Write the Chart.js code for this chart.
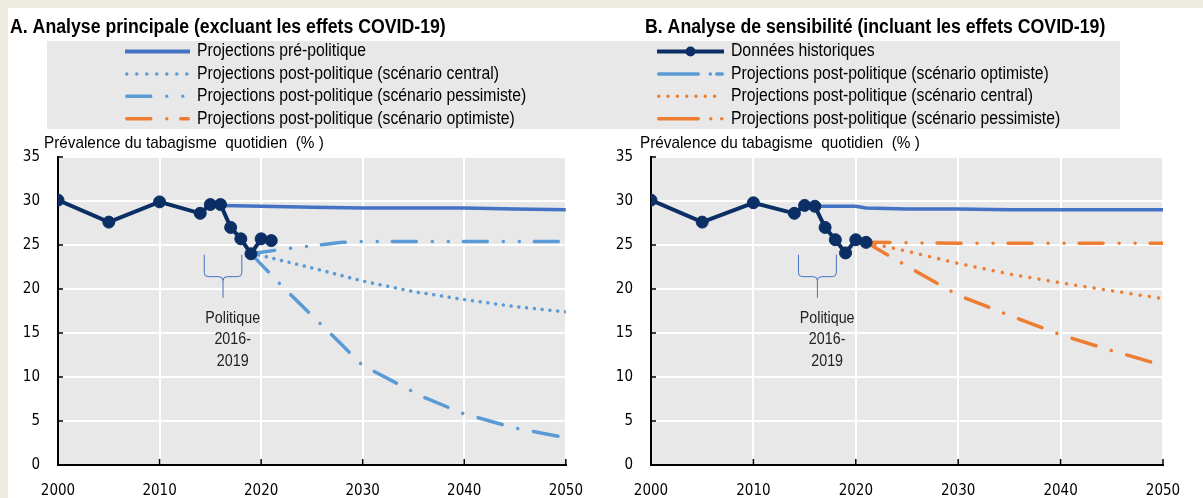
<!DOCTYPE html>
<html lang="fr">
<head>
<meta charset="utf-8">
<title>Prévalence du tabagisme quotidien</title>
<script src="https://cdn.jsdelivr.net/npm/chart.js@4.4.1/dist/chart.umd.min.js"></script>
<style>
  html, body { margin: 0; padding: 0; }
  body { width: 1203px; height: 498px; background: #eeece1; position: relative; overflow: hidden; }
  #sheet { position: absolute; left: 8px; top: 8px; width: 1195px; height: 490px; background: #fff; }
  canvas { position: absolute; top: 8px; }
  #chartA { left: 8px; }
  #chartB { left: 600px; }
</style>
</head>
<body>
<div id="sheet"></div>
<canvas id="chartA" width="592" height="490"></canvas>
<canvas id="chartB" width="603" height="490"></canvas>
<script>
// Données historiques (même série dans les deux panneaux)
const HIST_YEARS = [2000, 2005, 2010, 2014, 2015, 2016, 2017, 2018, 2019, 2020, 2021];
const HIST_A = [30.1, 27.6, 29.9, 28.6, 29.6, 29.6, 27.0, 25.7, 24.0, 25.7, 25.5];
const HIST_B = [30.1, 27.6, 29.8, 28.6, 29.5, 29.4, 27.0, 25.6, 24.1, 25.6, 25.3];

// Panneau A : projections
const PRE_A_YEARS = [2016, 2020, 2025, 2030, 2035, 2040, 2045, 2050];
const PRE_A = [29.5, 29.4, 29.3, 29.2, 29.2, 29.2, 29.1, 29.0];
const CENTRAL_A_YEARS = [2019, 2020, 2025, 2030, 2035, 2040, 2045, 2050];
const CENTRAL_A = [24.0, 23.8, 22.4, 20.9, 19.7, 18.8, 18.0, 17.4];
const UPPER_A_YEARS = [2019, 2022, 2025, 2028, 2030, 2040, 2050];
const UPPER_A = [24.0, 24.5, 24.9, 25.3, 25.4, 25.4, 25.4];
const LOWER_A_YEARS = [2019, 2020, 2022, 2025, 2028, 2030, 2033, 2036, 2040, 2045, 2050];
const LOWER_A = [24.0, 22.8, 20.4, 17.0, 13.6, 11.3, 9.5, 7.7, 5.8, 4.2, 3.1];

// Panneau B : projections
const PRE_B_YEARS = [2016, 2020, 2021, 2025, 2030, 2035, 2040, 2050];
const PRE_B = [29.4, 29.4, 29.2, 29.1, 29.1, 29.0, 29.0, 29.0];
const CENTRAL_B_YEARS = [2021, 2025, 2030, 2035, 2040, 2045, 2050];
const CENTRAL_B = [25.3, 24.3, 22.9, 21.7, 20.7, 19.8, 18.9];
const UPPER_B_YEARS = [2021, 2030, 2040, 2050];
const UPPER_B = [25.3, 25.2, 25.2, 25.2];
const LOWER_B_YEARS = [2021, 2025, 2028, 2030, 2035, 2040, 2045, 2050];
const LOWER_B = [25.3, 22.6, 20.6, 19.3, 17.0, 14.8, 13.0, 11.3];

const TITLE_A = 'A. Analyse principale (excluant les effets COVID-19)';
const TITLE_B = 'B. Analyse de sensibilité (incluant les effets COVID-19)';
const Y_TITLE = 'Prévalence du tabagisme  quotidien  (% )';
const LEGEND_A_LABELS = [
  'Projections pré-politique',
  'Projections post-politique (scénario central)',
  'Projections post-politique (scénario pessimiste)',
  'Projections post-politique (scénario optimiste)',
];
const LEGEND_B_LABELS = [
  'Données historiques',
  'Projections post-politique (scénario optimiste)',
  'Projections post-politique (scénario central)',
  'Projections post-politique (scénario pessimiste)',
];
const NOTE_LINES = ['Politique', '2016-', '2019'];
// accolade « Politique 2016-2019 » en unités des axes
const BRACE = { x1: 2014.4, x2: 2018.1, top: 23.9, bottom: 21.4, tip: 19.0, textX: 2017.2, textY: 16.7 };

const FONT = '"DejaVu Sans Condensed", "Liberation Sans Narrow", sans-serif';
const TEXT_FONT = '"Liberation Sans", Arial, sans-serif';
const NAVY = '#0b2e64';
const BLUE = '#4472c4';
const LIGHT = '#5b9bd5';
const ORANGE = '#ed7d31';
const DASH_DOT = [25, 16, 0.01, 16];
const DASH_DOT_DOT = [24, 16, 0.01, 16, 0.01, 15];

function toPoints(years, values) {
  return years.map((x, i) => ({ x, y: values[i] }));
}

function lineSet(label, years, values, color, dash) {
  return {
    label,
    data: toPoints(years, values),
    borderColor: color,
    backgroundColor: color,
    borderWidth: 3.5,
    borderDash: dash,
    borderCapStyle: dash.length ? 'round' : 'butt',
    pointRadius: 0,
    pointHoverRadius: 0,
    tension: 0,
    fill: false,
  };
}

function histSet(values) {
  return {
    label: 'Données historiques',
    data: toPoints(HIST_YEARS, values),
    borderColor: NAVY,
    backgroundColor: NAVY,
    borderWidth: 4,
    pointRadius: 6,
    pointBorderWidth: 1,
    pointHoverRadius: 6,
    tension: 0,
    fill: false,
  };
}

// texte étroit : police Arial-compatible compressée horizontalement
function narrowText(ctx, text, x, y, size, opts = {}) {
  const { weight = 'normal', align = 'left', squeeze = 0.885 } = opts;
  ctx.save();
  ctx.font = `${weight} ${size}px ${TEXT_FONT}`;
  ctx.textBaseline = 'middle';
  ctx.textAlign = align;
  ctx.translate(x, y);
  ctx.scale(squeeze, 1);
  ctx.fillText(text, 0, 0);
  ctx.restore();
}

function drawSample(ctx, item, x1, x2, y) {
  ctx.save();
  ctx.strokeStyle = item.color;
  ctx.lineWidth = item.width || 3.5;
  ctx.setLineDash(item.dash || []);
  ctx.lineCap = item.dash && item.dash.length ? 'round' : 'butt';
  const pad = ctx.lineCap === 'round' ? 1.75 : 0;
  ctx.beginPath();
  ctx.moveTo(x1 + pad, y);
  ctx.lineTo(x2 - pad, y);
  ctx.stroke();
  if (item.marker) {
    ctx.fillStyle = item.color;
    ctx.beginPath();
    ctx.arc((x1 + x2) / 2, y, 5, 0, Math.PI * 2);
    ctx.fill();
  }
  ctx.restore();
}

const decor = {
  id: 'decor',
  beforeDraw(chart, args, o) {
    const { ctx, chartArea: a } = chart;
    ctx.save();
    ctx.fillStyle = '#e8e8e8';
    ctx.fillRect(o.band[0], 33, o.band[1] - o.band[0], 88);
    ctx.fillRect(a.left, a.top, a.right - a.left, a.bottom - a.top);

    ctx.fillStyle = '#000';
    narrowText(ctx, o.title, o.titleX, 19, 20, { weight: 'bold' });
    o.legend.forEach((item, i) => {
      const y = 43.5 + i * 22.4;
      drawSample(ctx, item, o.sampleX, o.sampleX + o.sampleW, y);
      ctx.fillStyle = '#000';
      narrowText(ctx, item.label, o.sampleX + o.sampleW + 7, y, 17.5, { squeeze: 0.9 });
    });
    narrowText(ctx, Y_TITLE, o.yTitleX, 135, 17, { squeeze: 0.9 });
    ctx.restore();
  },
  beforeDatasetsDraw(chart) {
    const { ctx, chartArea: a, scales: { x, y } } = chart;
    ctx.save();
    // petites graduations intérieures
    ctx.strokeStyle = '#000';
    ctx.lineWidth = 1.5;
    ctx.beginPath();
    x.ticks.forEach((t) => {
      if (t.value === x.min) return;
      const px = x.getPixelForValue(t.value);
      ctx.moveTo(px, a.bottom);
      ctx.lineTo(px, a.bottom - 6);
    });
    y.ticks.forEach((t) => {
      if (t.value === y.min) return;
      const py = y.getPixelForValue(t.value);
      ctx.moveTo(a.left, py);
      ctx.lineTo(a.left + 5, py);
    });
    ctx.stroke();

    // accolade
    const x1 = x.getPixelForValue(BRACE.x1);
    const x2 = x.getPixelForValue(BRACE.x2);
    const xm = (x1 + x2) / 2;
    const yt = y.getPixelForValue(BRACE.top);
    const yb = y.getPixelForValue(BRACE.bottom);
    const yp = y.getPixelForValue(BRACE.tip);
    const r = 4;
    ctx.strokeStyle = BLUE;
    ctx.lineWidth = 1;
    ctx.beginPath();
    ctx.moveTo(x1, yt);
    ctx.lineTo(x1, yb - r);
    ctx.quadraticCurveTo(x1, yb, x1 + r, yb);
    ctx.lineTo(xm - r, yb);
    ctx.quadraticCurveTo(xm, yb, xm, yb + r);
    ctx.lineTo(xm, yp);
    ctx.moveTo(x2, yt);
    ctx.lineTo(x2, yb - r);
    ctx.quadraticCurveTo(x2, yb, x2 - r, yb);
    ctx.lineTo(xm + r, yb);
    ctx.quadraticCurveTo(xm, yb, xm, yb + r);
    ctx.stroke();

    ctx.fillStyle = '#222';
    const tx = x.getPixelForValue(BRACE.textX);
    const ty = y.getPixelForValue(BRACE.textY);
    NOTE_LINES.forEach((line, i) => narrowText(ctx, line, tx, ty + i * 21.5, 17, { align: 'center', squeeze: 0.84 }));
    ctx.restore();
  },
};

function scalesFor(yWidth) {
  const tickFont = { family: FONT, size: 15 };
  const grid = { color: '#ffffff', lineWidth: 2, drawTicks: false };
  const border = { color: '#000', width: 2 };
  return {
    x: {
      type: 'linear', min: 2000, max: 2050,
      afterFit: (s) => { s.height = 33; },
      ticks: { stepSize: 10, padding: 17, color: '#000', font: tickFont, maxRotation: 0, autoSkip: false, callback: (v) => String(v) },
      grid, border,
    },
    y: {
      min: 0, max: 35,
      afterFit: (s) => { s.width = yWidth; },
      ticks: { stepSize: 5, padding: 18, color: '#000', font: tickFont },
      grid, border,
    },
  };
}

function makeChart(id, datasets, yWidth, padRight, decorOpts) {
  return new Chart(document.getElementById(id), {
    type: 'line',
    data: { datasets },
    options: {
      responsive: false,
      animation: false,
      layout: { padding: { top: 149, right: padRight, left: 0, bottom: 0 } },
      scales: scalesFor(yWidth),
      plugins: { legend: { display: false }, tooltip: { enabled: false }, decor: decorOpts },
    },
    plugins: [decor],
  });
}

makeChart('chartA', [
  histSet(HIST_A),
  lineSet('Projections pré-politique', PRE_A_YEARS, PRE_A, BLUE, []),
  lineSet('Projections post-politique (scénario central)', CENTRAL_A_YEARS, CENTRAL_A, LIGHT, [0.01, 7.8]),
  lineSet('Projections post-politique (scénario pessimiste)', UPPER_A_YEARS, UPPER_A, LIGHT, DASH_DOT_DOT),
  lineSet('Projections post-politique (scénario optimiste)', LOWER_A_YEARS, LOWER_A, LIGHT, DASH_DOT),
], 50, 32, {
  title: TITLE_A, titleX: 2, band: [39, 592], sampleX: 117, sampleW: 65, yTitleX: 36,
  legend: [
    { label: LEGEND_A_LABELS[0], color: BLUE, width: 4, dash: [] },
    { label: LEGEND_A_LABELS[1], color: LIGHT, dash: [0.01, 10] },
    { label: LEGEND_A_LABELS[2], color: LIGHT, dash: [24, 16, 0.01, 16, 0.01, 40] },
    { label: LEGEND_A_LABELS[3], color: ORANGE, dash: [24, 16, 0.01, 14, 20] },
  ],
});

makeChart('chartB', [
  histSet(HIST_B),
  lineSet('Projections pré-politique', PRE_B_YEARS, PRE_B, BLUE, []),
  lineSet('Projections post-politique (scénario central)', CENTRAL_B_YEARS, CENTRAL_B, ORANGE, [0.01, 9.3]),
  lineSet('Projections post-politique (scénario pessimiste)', UPPER_B_YEARS, UPPER_B, ORANGE, DASH_DOT_DOT),
  lineSet('Projections post-politique (scénario optimiste)', LOWER_B_YEARS, LOWER_B, ORANGE, DASH_DOT),
], 51, 40, {
  title: TITLE_B, titleX: 45, band: [0, 520], sampleX: 57, sampleW: 67, yTitleX: 40,
  legend: [
    { label: LEGEND_B_LABELS[0], color: NAVY, width: 4, dash: [], marker: true },
    { label: LEGEND_B_LABELS[1], color: LIGHT, dash: [39.5, 12, 0.01, 6.5, 20] },
    { label: LEGEND_B_LABELS[2], color: ORANGE, dash: [0.01, 9.3] },
    { label: LEGEND_B_LABELS[3], color: ORANGE, dash: [39.5, 12.5, 0.01, 11, 0.01, 20] },
  ],
});
</script>
</body>
</html>
